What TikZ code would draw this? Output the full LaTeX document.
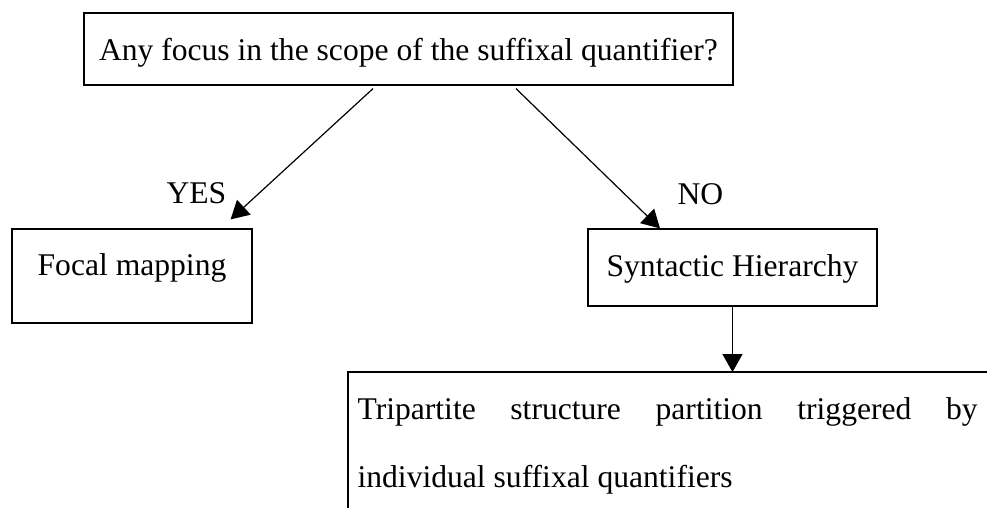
\documentclass[tikz,border=0pt]{standalone}
\usepackage{fontspec}
\setmainfont{Liberation Serif}
\usetikzlibrary{arrows.meta,positioning}

\begin{document}
\begin{tikzpicture}[x=0.5pt,y=-0.5pt,line width=0.6pt,
  font=\fontsize{15.8}{34}\selectfont,
  box/.style={draw,rectangle,inner sep=0pt},
  >={Triangle[length=9pt,width=10pt]}]
\useasboundingbox (0,0) rectangle (987,508);
\clip (0,0) rectangle (987,508);
\node[box,minimum width=324.5pt,minimum height=36pt,text height=12pt,text depth=0pt] (quest) at (408.5,49) {Any focus in the scope of the suffixal quantifier?};
\node[box,minimum width=120pt,minimum height=47pt,text height=11pt,text depth=11pt] (focal) at (132,276) {Focal mapping};
\node[box,minimum width=144.5pt,minimum height=38.5pt,text height=11pt,text depth=1.5pt] (synt) at (732.5,267.5) {Syntactic Hierarchy};
\node[text width=310pt,inner xsep=4.5pt,inner ysep=12.7pt,align=justify,anchor=base west] (tri) at (348,420) {Tripartite structure partition triggered by\linebreak individual suffixal quantifiers};
\draw ([xshift=5pt]tri.north east) -- (tri.north west) -- ([yshift=-5pt]tri.south west);
\draw[->] ([xshift=-17.75pt,yshift=-1.5pt]quest.south) -- ([xshift=-11pt,yshift=4.5pt]focal.north east);
\draw[->] ([xshift=53.75pt,yshift=-1.5pt]quest.south) -- ([xshift=-36.25pt]synt.north);
\draw[->] (synt.south) -- (synt.south |- tri.north);
\node[anchor=base west,inner sep=0pt] (yes) at (166,204) {YES};
\node[anchor=base west,inner sep=0pt] (no) at (677,205) {NO};
\end{tikzpicture}
\end{document}
